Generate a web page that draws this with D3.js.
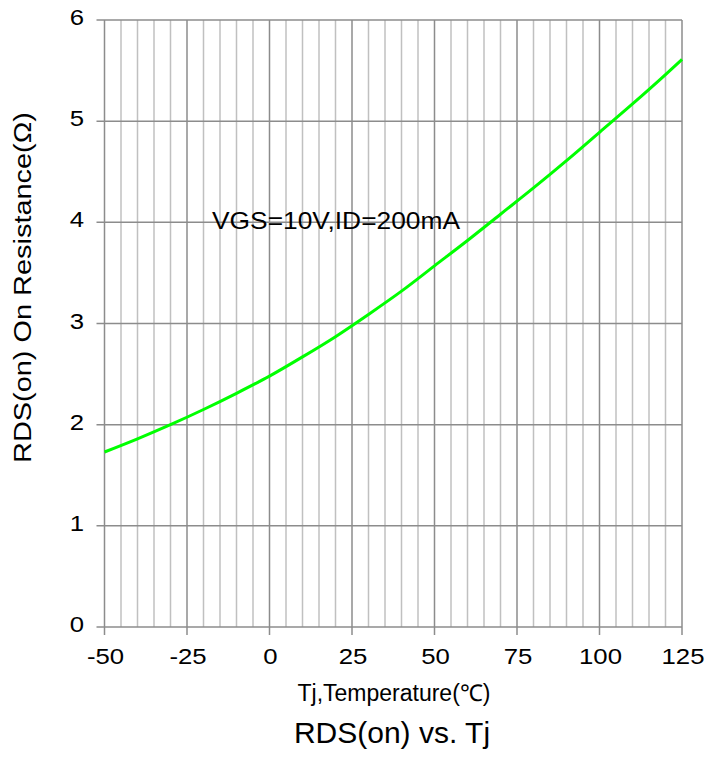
<!DOCTYPE html>
<html>
<head>
<meta charset="utf-8">
<script src="https://cdn.jsdelivr.net/npm/d3@7/dist/d3.min.js"></script>
<style>
  body{margin:0;background:#fff;}
  text{font-family:"Liberation Sans",Arial,sans-serif;fill:#000;}
</style>
</head>
<body>
<div id="chart"></div>
<script>
// temperature (°C) and RDS(on) (Ω)
const tempC = [-50,-40,-30,-20,-10,0,10,20,30,40,50,60,70,80,90,100,110,120,125];
const rdsOhm = [1.73,1.86,2.00,2.15,2.31,2.48,2.67,2.87,3.09,3.32,3.57,3.82,4.08,4.34,4.61,4.89,5.17,5.46,5.61];
const xTicks = [-50,-25,0,25,50,75,100,125];
const yTicks = [0,1,2,3,4,5,6];

const W=707,H=760;
const L=104.5,R=682,T=20,B=627;
const svg=d3.select('#chart').append('svg').attr('width',W).attr('height',H);
const x=d3.scaleLinear().domain([-50,125]).range([L,R]);
const y=d3.scaleLinear().domain([0,6]).range([B,T]);

// minor vertical grid every 5°C
const minor=d3.range(-45,125,5).filter(v=>v%25!==0);
svg.append('g').selectAll('line').data(minor).join('line')
  .attr('x1',d=>x(d)).attr('x2',d=>x(d)).attr('y1',T).attr('y2',B)
  .attr('stroke','#c0c0c0').attr('stroke-width',1.5);
// major vertical grid + ticks
svg.append('g').selectAll('line').data(xTicks).join('line')
  .attr('x1',d=>x(d)).attr('x2',d=>x(d)).attr('y1',T).attr('y2',B+8)
  .attr('stroke','#8c8c8c').attr('stroke-width',1.5);
// horizontal grid + ticks
svg.append('g').selectAll('line').data(yTicks).join('line')
  .attr('x1',L-8).attr('x2',R).attr('y1',d=>y(d)).attr('y2',d=>y(d))
  .attr('stroke','#8c8c8c').attr('stroke-width',1.5);

// tick labels (slightly widened like the reference)
svg.append('g').selectAll('text').data(xTicks).join('text')
  .attr('transform',d=>`translate(${x(d)+1},664) scale(1.12,1)`)
  .attr('text-anchor','middle').style('font-size','23px').text(d=>d);
svg.append('g').selectAll('text').data(yTicks).join('text')
  .attr('transform',d=>`translate(84,${y(d)+5}) scale(1.12,1)`)
  .attr('text-anchor','end').style('font-size','23px').text(d=>d);

// curve
const line=d3.line().x((d,i)=>x(tempC[i])).y(d=>y(d)).curve(d3.curveMonotoneX);
svg.append('path').datum(rdsOhm).attr('d',line)
  .attr('fill','none').attr('stroke','#00ff00').attr('stroke-width',3);

// texts
svg.append('text').attr('x',212).attr('y',229).style('font-size','24px')
  .attr('textLength',248).attr('lengthAdjust','spacingAndGlyphs').text('VGS=10V,ID=200mA');
svg.append('text').attr('x',394).attr('y',701).attr('text-anchor','middle')
  .style('font-size','23px').text('Tj,Temperature(℃)');
svg.append('text').attr('transform','translate(31,463) rotate(-90)')
  .style('font-size','23px').attr('textLength',351).attr('lengthAdjust','spacingAndGlyphs')
  .text('RDS(on) On Resistance(Ω)');
svg.append('text').attr('x',392).attr('y',743).attr('text-anchor','middle')
  .style('font-size','30px').text('RDS(on) vs. Tj');
</script>
</body>
</html>
